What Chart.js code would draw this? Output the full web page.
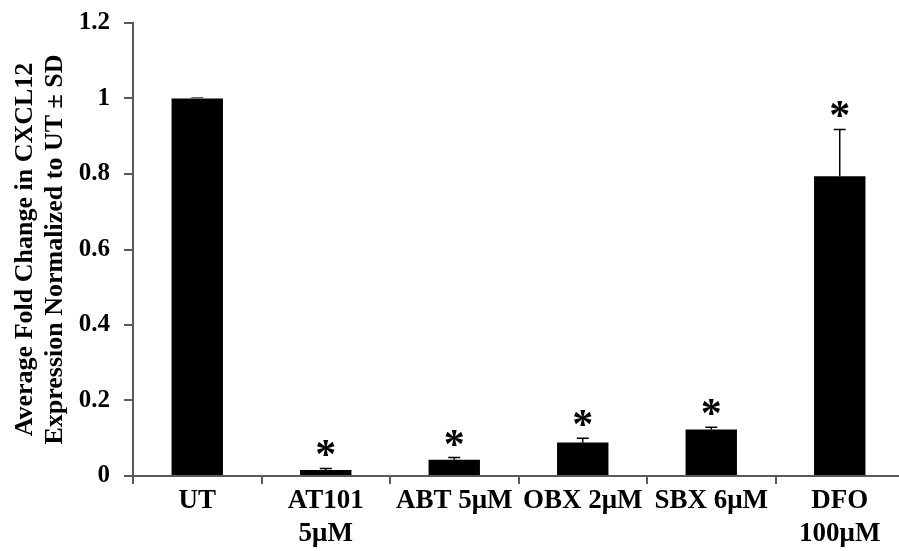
<!DOCTYPE html>
<html>
<head>
<meta charset="utf-8">
<script src="https://cdn.jsdelivr.net/npm/chart.js@4/dist/chart.umd.min.js"></script>
<style>
  html, body { margin: 0; padding: 0; background: #fff; overflow: hidden; }
  #wrap { width: 910px; height: 551px; }
</style>
</head>
<body>
<div id="wrap"><canvas id="chart" width="910" height="551"></canvas></div>
<script>
// valores
const categories = ["UT", ["AT101", "5μM"], "ABT 5μM", "OBX 2μM", "SBX 6μM", ["DFO", "100μM"]];
const foldChange = [1.0, 0.016, 0.043, 0.089, 0.123, 0.794];
const sdValues = [0.002, 0.004, 0.006, 0.011, 0.006, 0.124];
const significant = [false, true, true, true, true, true];
const yTicks = [0, 0.2, 0.4, 0.6, 0.8, 1, 1.2];

const serif = "'Liberation Serif', 'Times New Roman', serif";
const axisGray = "#595959";

// barras de error (solo hacia arriba) y asteriscos
const errorBars = {
  id: "errorBars",
  afterDatasetsDraw(chart) {
    const ctx = chart.ctx;
    const meta = chart.getDatasetMeta(0);
    const y = chart.scales.y;
    ctx.save();
    meta.data.forEach((bar, i) => {
      const yTop = y.getPixelForValue(foldChange[i]);
      const yErr = y.getPixelForValue(foldChange[i] + sdValues[i]);
      ctx.strokeStyle = i === 0 ? "#666" : "#000";
      ctx.lineWidth = 1.5;
      ctx.beginPath();
      ctx.moveTo(bar.x, yTop);
      ctx.lineTo(bar.x, yErr);
      ctx.moveTo(bar.x - 6, yErr);
      ctx.lineTo(bar.x + 6, yErr);
      ctx.stroke();
      if (significant[i]) {
        ctx.fillStyle = "#000";
        ctx.font = "bold 42px " + serif;
        ctx.textAlign = "center";
        ctx.textBaseline = "alphabetic";
        ctx.fillText("*", bar.x, yErr);
      }
    });
    ctx.restore();
  }
};

new Chart(document.getElementById("chart"), {
  type: "bar",
  data: {
    labels: categories,
    datasets: [{
      data: foldChange,
      backgroundColor: "#000",
      borderWidth: 0,
      barPercentage: 0.4,
      categoryPercentage: 1.0
    }]
  },
  options: {
    responsive: false,
    animation: false,
    events: [],
    layout: { padding: { left: 0, right: 6, top: 23, bottom: 0 } },
    plugins: { legend: { display: false }, tooltip: { enabled: false } },
    scales: {
      x: {
        grid: { display: true, drawOnChartArea: false, offset: true, tickLength: 8, color: axisGray, lineWidth: 2 },
        border: { color: axisGray, width: 2 },
        ticks: { color: "#000", font: { family: serif, size: 27, weight: "bold" }, padding: 1, maxRotation: 0, autoSkip: false },
        afterFit(scale) { scale.height = 75; }
      },
      y: {
        min: 0,
        max: 1.2,
        afterBuildTicks(scale) { scale.ticks = yTicks.map(v => ({ value: v })); },
        grid: { display: true, drawOnChartArea: false, tickLength: 9, color: axisGray, lineWidth: 2 },
        border: { color: axisGray, width: 2 },
        ticks: {
          color: "#000",
          font: { family: serif, size: 25, weight: "bold" },
          padding: 14,
          callback: v => String(v)
        },
        title: {
          display: true,
          text: ["Average Fold Change in CXCL12", "Expression Normalized to UT ± SD"],
          color: "#000",
          font: { family: serif, size: 26, weight: "bold", lineHeight: 1.15 },
          padding: { top: 10, bottom: 0 }
        },
        afterFit(scale) {
          scale.width = 133;
          scale.paddingTop = 0;
          scale.paddingBottom = 0;
        }
      }
    }
  },
  plugins: [errorBars]
});
</script>
</body>
</html>
